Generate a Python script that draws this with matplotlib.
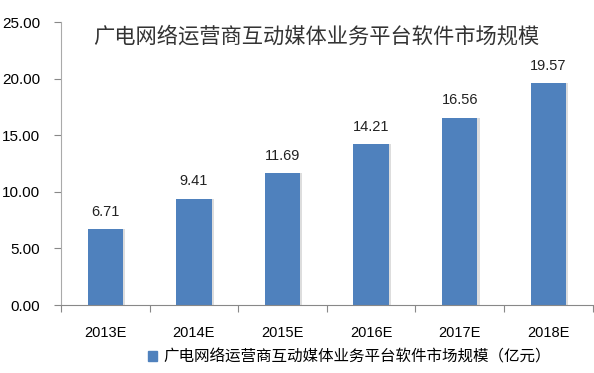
import matplotlib.pyplot as plt
from matplotlib.patches import Patch

plt.rcParams['font.family'] = ['Noto Sans CJK SC', 'DejaVu Sans']

years = ['2013E', '2014E', '2015E', '2016E', '2017E', '2018E']
values = [6.71, 9.41, 11.69, 14.21, 16.56, 19.57]
title = '广电网络运营商互动媒体业务平台软件市场规模'
legend_label = '广电网络运营商互动媒体业务平台软件市场规模（亿元）'

bar_color = '#4f81bd'

fig = plt.figure(figsize=(5.94, 3.73), dpi=100)
ax = fig.add_axes([0.1027, 0.182, 0.895, 0.759])

x = range(len(years))
# light shadow behind each bar
ax.bar([i + 0.025 for i in x], values, width=0.4, color='#dddddd', zorder=1)
ax.bar(x, values, width=0.4, color=bar_color, zorder=2)

for i, v in enumerate(values):
    ax.text(i, v + 0.9, f'{v:.2f}', ha='center', va='bottom', fontsize=10.5,
            family=['Liberation Sans', 'DejaVu Sans'], color='#222222')

ax.set_xlim(-0.5, len(years) - 0.5)
ax.set_ylim(0, 25)
ax.set_yticks([0, 5, 10, 15, 20, 25])
ax.set_yticklabels([f'{t:.2f}' for t in [0, 5, 10, 15, 20, 25]],
                   family=['Liberation Sans', 'DejaVu Sans'], fontsize=11)
ax.set_xticks([i - 0.5 for i in range(len(years) + 1)], minor=False)
ax.set_xticklabels([])
ax.set_xticks(list(x), minor=True)
ax.set_xticklabels(years, minor=True, family=['Liberation Sans', 'DejaVu Sans'], fontsize=10.5)
ax.tick_params(axis='x', which='major', length=5, color='#888888', direction='out')
ax.tick_params(axis='x', which='minor', length=0, pad=15)
ax.tick_params(axis='y', length=5, color='#888888', pad=10)

for s in ['top', 'right']:
    ax.spines[s].set_visible(False)
ax.spines['left'].set_color('#aaaaaa')
ax.spines['bottom'].set_color('#888888')

ax.text(0.48, 0.95, title, transform=ax.transAxes, ha='center', va='center',
        fontsize=15.3, color='#333333', fontweight='light')

fig.legend(handles=[Patch(color=bar_color)], labels=[legend_label],
           loc='center', bbox_to_anchor=(0.588, 0.043), frameon=False,
           fontsize=11.2, handlelength=0.6, handleheight=0.6, handletextpad=0.4)

fig.savefig('out.png', dpi=100)
